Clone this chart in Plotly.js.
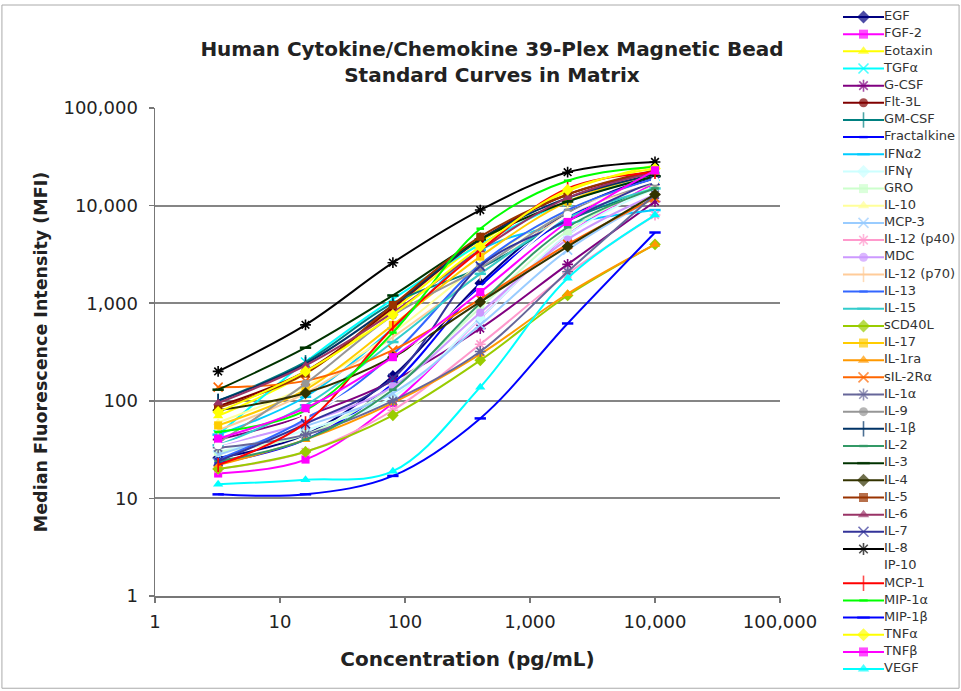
<!DOCTYPE html>
<html>
<head>
<meta charset="utf-8">
<script src="https://cdn.plot.ly/plotly-3.0.1.min.js"></script>
<style>html,body{margin:0;padding:0;background:#fff;}#chart{width:961px;height:691px;}</style>
</head>
<body>
<div id="chart"></div>
<script>
// Concentrations (pg/mL)
const concentrations = [3.2, 16, 80, 400, 2000, 10000];

// Series names
const seriesNames = ["EGF","FGF-2","Eotaxin","TGFα","G-CSF","Flt-3L","GM-CSF","Fractalkine","IFNα2","IFNγ",
  "GRO","IL-10","MCP-3","IL-12 (p40)","MDC","IL-12 (p70)","IL-13","IL-15","sCD40L","IL-17",
  "IL-1ra","sIL-2Rα","IL-1α","IL-9","IL-1β","IL-2","IL-3","IL-4","IL-5","IL-6",
  "IL-7","IL-8","IP-10","MCP-1","MIP-1α","MIP-1β","TNFα","TNFβ","VEGF"];

// MFI values per series
const EGF        = [26, 45, 180, 1600, 8500, 20000];
const FGF2       = [18, 25, 95, 700, 5000, 17000];
const Eotaxin    = [70, 190, 850, 4200, 14000, 26000];
const TGFa       = [45, 250, 1100, 4000, 11000, 20000];
const GCSF       = [40, 70, 160, 550, 2500, 11000];
const Flt3L      = [88, 200, 900, 4500, 13000, 22000];
const GMCSF      = [100, 250, 1000, 2300, 7000, 15000];
const Fractalkine= [23, 40, 150, 1500, 7500, 19000];
const IFNa2      = [45, 110, 550, 3500, 6500, 9000];
const IFNg       = [30, 50, 110, 700, 5000, 15000];
const GRO        = [30, 45, 140, 900, 5500, 16000];
const IL10       = [60, 140, 500, 2500, 9000, 18000];
const MCP3       = [28, 55, 120, 600, 3500, 12000];
const IL12p40    = [20, 30, 80, 380, 2000, 8000];
const MDC        = [35, 60, 140, 800, 4500, 13000];
const IL12p70    = [50, 120, 450, 2000, 8000, 17000];
const IL13       = [25, 65, 300, 2500, 9000, 19000];
const IL15       = [35, 90, 400, 2000, 7500, 15000];
const sCD40L     = [20, 30, 71, 260, 1200, 4000];
const IL17       = [56, 130, 600, 3000, 11000, 21000];
const IL1ra      = [22, 40, 95, 300, 1250, 4000];
const sIL2Ra     = [138, 160, 330, 1100, 4000, 12000];
const IL1a       = [33, 45, 100, 320, 2100, 13000];
const IL9        = [37, 150, 750, 2300, 8500, 17000];
const IL1b       = [100, 240, 950, 4500, 12000, 21000];
const IL2        = [24, 40, 130, 1000, 6000, 15000];
const IL3        = [130, 350, 1200, 4500, 11000, 20000];
const IL4        = [80, 120, 280, 1030, 3800, 13000];
const IL5        = [85, 190, 960, 4800, 13000, 23000];
const IL6        = [95, 230, 800, 3500, 12000, 22000];
const IL7        = [24, 58, 170, 2400, 7000, 18000];
const IL8        = [200, 600, 2600, 9000, 22000, 28000];
const IP10       = [35, 70, 250, 1400, 8000, 18000];
const MCP1       = [22, 59, 560, 3500, 15000, 22000];
const MIP1a      = [48, 80, 500, 5800, 18000, 25000];
const MIP1b      = [11, 11, 17, 66, 620, 5300];
const TNFa       = [77, 200, 760, 3800, 14500, 24000];
const TNFb       = [41, 84, 280, 1300, 6800, 23000];
const VEGF       = [14, 15.5, 19, 138, 1800, 8000];

const seriesValues = [EGF,FGF2,Eotaxin,TGFa,GCSF,Flt3L,GMCSF,Fractalkine,IFNa2,IFNg,
  GRO,IL10,MCP3,IL12p40,MDC,IL12p70,IL13,IL15,sCD40L,IL17,
  IL1ra,sIL2Ra,IL1a,IL9,IL1b,IL2,IL3,IL4,IL5,IL6,
  IL7,IL8,IP10,MCP1,MIP1a,MIP1b,TNFa,TNFb,VEGF];

const seriesColors = ["#000080","#FF00FF","#FFFF00","#00FFFF","#800080","#800000","#008080","#0000FF","#00CCFF","#CCFFFF",
  "#CCFFCC","#FFFF99","#99CCFF","#FF99CC","#CC99FF","#FFCC99","#3366FF","#33CCCC","#99CC00","#FFCC00",
  "#FF9900","#FF6600","#666699","#969696","#003366","#339966","#003300","#333300","#993300","#993366",
  "#333399","#000000","#FFFFFF","#FF0000","#00FF00","#0000FF","#FFFF00","#FF00FF","#00FFFF"];

// Excel marker cycle: diamond, square, triangle, x, star, circle, plus-bar, short dash, long dash
const symbolCycle = ["diamond","square","triangle-up","x-thin-open","asterisk-open","circle","line-ns-open","line-ew-open","line-ew-open"];
const symbolScale = [1, 0.9, 1, 1, 1, 0.9, 1.1, 0.6, 0.9];

// Axis tick labels
const xTickVals = [1, 10, 100, 1000, 10000, 100000];
const xTickText = ["1","10","100","1,000","10,000","100,000"];
const yTickVals = [1, 10, 100, 1000, 10000, 100000];
const yTickText = ["1","10","100","1,000","10,000","100,000"];

const FONT = "DejaVu Sans, Liberation Sans, Arial, sans-serif";
const W = 961, H = 691;

function markerFor(i, base) {
  const k = i % symbolCycle.length;
  const sym = symbolCycle[k];
  const open = sym.endsWith("-open");
  const sz = Array.isArray(base) ? base.map(b => b * symbolScale[k]) : base * symbolScale[k];
  return {
    symbol: sym,
    size: sz,
    color: seriesColors[i],
    line: {color: seriesColors[i], width: open ? (k >= 7 ? 2.5 : 1.6) : 0}
  };
}

const traces = [];
seriesNames.forEach((name, i) => {
  traces.push({
    type: "scatter",
    mode: "lines+markers",
    x: concentrations,
    y: seriesValues[i],
    name: name,
    showlegend: false,
    line: {color: seriesColors[i], width: 2, shape: "spline", smoothing: 1},
    marker: markerFor(i, 9),
    xaxis: "x", yaxis: "y",
    cliponaxis: false
  });
});

// Legend drawn as a small side subplot
seriesNames.forEach((name, i) => {
  traces.push({
    type: "scatter",
    mode: "lines+markers+text",
    x: [0, 1, 2],
    y: [i, i, i],
    text: ["", "", name],
    textposition: "middle right",
    textfont: {family: FONT, size: 13, color: "#333"},
    showlegend: false,
    hoverinfo: "skip",
    line: {color: seriesColors[i], width: 2},
    marker: markerFor(i, [0, 10, 0]),
    xaxis: "x2", yaxis: "y2",
    cliponaxis: false
  });
});

const plotL = 155, plotR = 780, plotT = 108, plotB = 596;
const legTop = 17, legStep = 17.16;

const layout = {
  width: W, height: H,
  margin: {l: 0, r: 0, t: 0, b: 0},
  paper_bgcolor: "#fff",
  plot_bgcolor: "rgba(0,0,0,0)",
  showlegend: false,
  font: {family: FONT, color: "#222"},
  title: {
    text: "<b>Human Cytokine/Chemokine 39-Plex Magnetic Bead<br>Standard Curves in Matrix</b>",
    font: {family: FONT, size: 20, color: "#222"},
    x: 492 / W, xanchor: "center",
    y: 1 - 56 / H, yanchor: "top"
  },
  xaxis: {
    type: "log",
    domain: [plotL / W, plotR / W],
    range: [0, 5],
    tickvals: xTickVals, ticktext: xTickText,
    tickfont: {family: FONT, size: 18, color: "#222"},
    ticklabelstandoff: 4,
    showgrid: false, zeroline: false,
    showline: true, linecolor: "#777", linewidth: 1.5,
    ticks: "outside", ticklen: 5, tickcolor: "#777", tickwidth: 1.5,
    title: {text: "<b>Concentration (pg/mL)</b>", font: {family: FONT, size: 20, color: "#222"}, standoff: 21},
    anchor: "y"
  },
  yaxis: {
    type: "log",
    domain: [1 - plotB / H, 1 - plotT / H],
    range: [0, 5],
    tickvals: yTickVals, ticktext: yTickText,
    tickfont: {family: FONT, size: 18, color: "#222"},
    ticklabelstandoff: 7,
    showgrid: true, gridcolor: "#858585", gridwidth: 2,
    zeroline: false,
    showline: true, linecolor: "#777", linewidth: 1.5,
    ticks: "outside", ticklen: 5, tickcolor: "#777", tickwidth: 1.5,
    title: {text: "<b>Median Fluorescence Intensity (MFI)</b>", font: {family: FONT, size: 17.5, color: "#222"}, standoff: 11},
    anchor: "x"
  },
  xaxis2: {
    domain: [843 / W, 884 / W],
    range: [0, 2],
    visible: false, fixedrange: true,
    anchor: "y2"
  },
  yaxis2: {
    domain: [0, 1],
    range: [(H - legTop) / legStep, -legTop / legStep],
    visible: false, fixedrange: true,
    anchor: "x2"
  },
  shapes: [
    {type: "rect", xref: "paper", yref: "paper", x0: 0.002, x1: 0.998, y0: 0.004, y1: 1 - 5 / H,
     line: {color: "#aaa", width: 1}, fillcolor: "rgba(0,0,0,0)"}
  ]
};

Plotly.newPlot("chart", traces, layout, {staticPlot: true, displayModeBar: false});
</script>
</body>
</html>
